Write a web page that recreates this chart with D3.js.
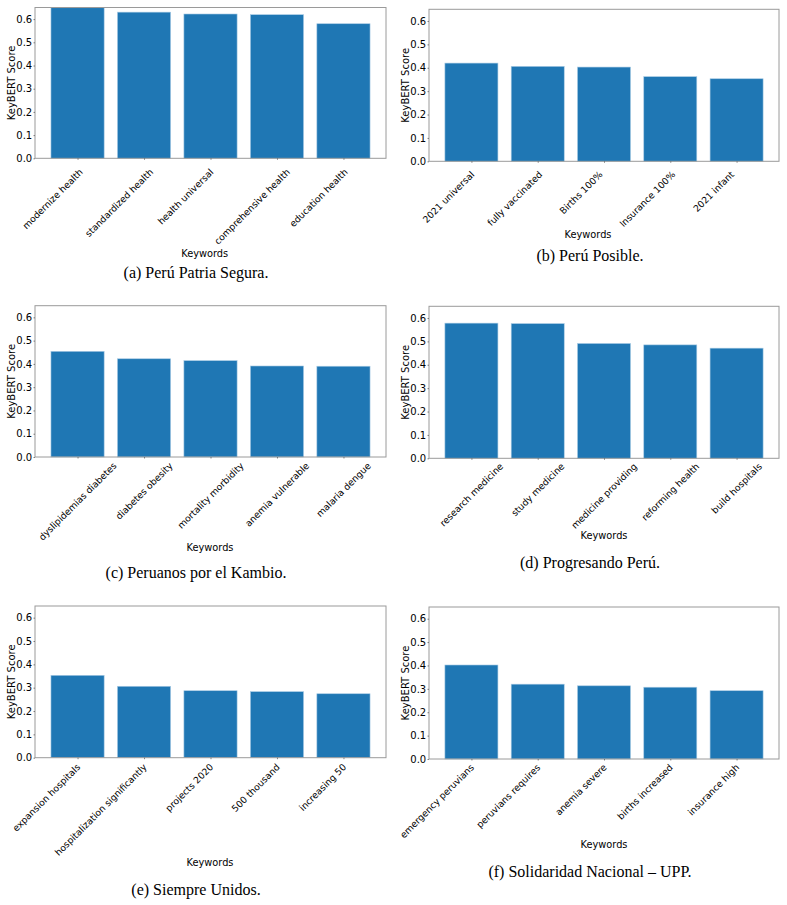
<!DOCTYPE html>
<html>
<head>
<meta charset="utf-8">
<script src="https://cdn.jsdelivr.net/npm/d3@7"></script>
<style>
  body { margin: 0; background: #fff; }
  svg { display: block; }
</style>
</head>
<body>
<div id="chart"></div>
<script>

// ━━━━━━━━━━━━━━━━━━━━━━━━━━━━━━━━━━━━━━━━━━━━━━━━━━━━━━━━━━━━━━━━━━━━━━━━━━━━━━
// Data ///////////////////////////////////////////////////////////////////////////
// ━━━━━━━━━━━━━━━━━━━━━━━━━━━━━━━━━━━━━━━━━━━━━━━━━━━━━━━━━━━━━━━━━━━━━━━━━━━━━━━

const keywordsA = ['modernize health', 'standardized health', 'health universal', 'comprehensive health', 'education health'];
const scoresA   = [0.649, 0.630, 0.622, 0.619, 0.580];

const keywordsB = ['2021 universal', 'fully vaccinated', 'Births 100%', 'Insurance 100%', '2021 infant'];
const scoresB   = [0.420, 0.406, 0.403, 0.362, 0.353];

const keywordsC = ['dyslipidemias diabetes', 'diabetes obesity', 'mortality morbidity', 'anemia vulnerable', 'malaria dengue'];
const scoresC   = [0.454, 0.422, 0.414, 0.391, 0.390];

const keywordsD = ['research medicine', 'study medicine', 'medicine providing', 'reforming health', 'build hospitals'];
const scoresD   = [0.578, 0.576, 0.491, 0.485, 0.471];

const keywordsE = ['expansion hospitals', 'hospitalization significantly', 'projects 2020', '500 thousand', 'increasing 50'];
const scoresE   = [0.353, 0.306, 0.287, 0.283, 0.274];

const keywordsF = ['emergency peruvians', 'peruvians requires', 'anemia severe', 'births increased', 'insurance high'];
const scoresF   = [0.402, 0.320, 0.313, 0.307, 0.292];

const captions = ['(a) Perú Patria Segura.', '(b) Perú Posible.', '(c) Peruanos por el Kambio.',
                  '(d) Progresando Perú.', '(e) Siempre Unidos.', '(f) Solidaridad Nacional – UPP.'];

const yTicks = [0.0, 0.1, 0.2, 0.3, 0.4, 0.5, 0.6];
const yMax = 0.65;

// ━━━━━━━━━━━━━━━━━━━━━━━━━━━━━━━━━━━━━━━━━━━━━━━━━━━━━━━━━━━━━━━━━━━━━━━━━━━━━━
// Layout (one entry per panel) ///////////////////////////////////////////////////
// ━━━━━━━━━━━━━━━━━━━━━━━━━━━━━━━━━━━━━━━━━━━━━━━━━━━━━━━━━━━━━━━━━━━━━━━━━━━━━━━

// mode: how the rotated keyword labels sit against their tick
//   'center' -> label box centred on tick (+shift), 'right' -> label ends at tick (+shift)
const panels = [
  { keys: keywordsA, vals: scoresA, caption: captions[0], left: 35,  right: 386, top: 7.5,   bottom: 158.3, mode: 'center', shift: -25, dy: 14.4, xlab: [204.7, 257.3], cap: [196, 278] },
  { keys: keywordsB, vals: scoresB, caption: captions[1], left: 429, right: 779, top: 9.3,   bottom: 161.3, mode: 'center', shift: -23, dy: 13.8, xlab: [588, 238],     cap: [590, 261] },
  { keys: keywordsC, vals: scoresC, caption: captions[2], left: 35,  right: 386, top: 305.7, bottom: 457,   mode: 'center', shift: 0,   dy: 9.4,  xlab: [210, 551],     cap: [196, 578] },
  { keys: keywordsD, vals: scoresD, caption: captions[3], left: 429, right: 779, top: 306.3, bottom: 458.3, mode: 'center', shift: 0,   dy: 8.7,  xlab: [604, 539.3],   cap: [590, 568] },
  { keys: keywordsE, vals: scoresE, caption: captions[4], left: 35,  right: 386, top: 606,   bottom: 757.7, mode: 'right',  shift: 3.4, dy: 10,   xlab: [210, 866],     cap: [196, 895] },
  { keys: keywordsF, vals: scoresF, caption: captions[5], left: 429, right: 779, top: 607,   bottom: 759,   mode: 'right',  shift: 3.2, dy: 9,    xlab: [604, 847.7],   cap: [590, 877] }
];

const width = 787, height = 905;
const barColor = '#1f77b4';
const sansFont = 'DejaVu Sans, sans-serif';
const tickFs = 9.2, yTickFs = 10, labelFs = 9.8;

const svg = d3.select('#chart').append('svg')
  .attr('xmlns', 'http://www.w3.org/2000/svg')
  .attr('viewBox', [0, 0, width, height])
  .attr('width', width)
  .attr('height', height);

svg.append('rect').attr('width', width).attr('height', height).attr('fill', '#fff');

panels.forEach(drawPanel);

function drawPanel(p) {
  const g = svg.append('g');

  const x = d3.scaleLinear().domain([-0.64, p.keys.length - 1 + 0.64]).range([p.left, p.right]);
  const y = d3.scaleLinear().domain([0, yMax]).range([p.bottom, p.top]);

  // bars
  g.append('g')
    .selectAll('rect')
    .data(p.vals)
    .join('rect')
    .attr('x', (d, i) => x(i - 0.4))
    .attr('width', (d, i) => x(i + 0.4) - x(i - 0.4))
    .attr('y', d => y(Math.min(d, yMax)))
    .attr('height', d => y(0) - y(Math.min(d, yMax)))
    .attr('fill', barColor)
    .attr('stroke', '#a9cbe4')
    .attr('stroke-width', 0.6);

  // frame
  g.append('rect')
    .attr('x', p.left).attr('y', p.top)
    .attr('width', p.right - p.left).attr('height', p.bottom - p.top)
    .attr('fill', 'none')
    .attr('stroke', '#9a9a9a')
    .attr('stroke-width', 1);

  // y axis
  const yAxis = g.append('g')
    .attr('transform', `translate(${p.left},0)`)
    .call(d3.axisLeft(y).tickValues(yTicks).tickSize(1.5).tickPadding(1.3).tickFormat(d3.format('.1f')));
  yAxis.select('.domain').remove();
  yAxis.selectAll('line').attr('stroke', '#555').attr('stroke-width', 0.7);
  yAxis.selectAll('text').attr('font-family', sansFont).attr('font-size', yTickFs).attr('fill', '#000');

  // x axis ticks
  const xAxis = g.append('g')
    .attr('transform', `translate(0,${p.bottom})`)
    .call(d3.axisBottom(x).tickValues(d3.range(p.keys.length)).tickSize(1.5).tickFormat(''));
  xAxis.select('.domain').remove();
  xAxis.selectAll('line').attr('stroke', '#555').attr('stroke-width', 0.7);

  // rotated keyword labels (anchored at the end of the baseline)
  const c45 = Math.SQRT1_2;
  const asc = 0.73 * tickFs;
  g.append('g')
    .selectAll('text')
    .data(p.keys)
    .join('text')
    .attr('font-family', sansFont)
    .attr('font-size', tickFs)
    .attr('fill', '#000')
    .attr('text-anchor', 'end')
    .text(d => d)
    .attr('transform', function (d, i) {
      let bx = x(i) + p.shift;
      if (p.mode === 'center') {
        const L = this.getComputedTextLength();
        bx += c45 * (L + asc) / 2;
      }
      const by = p.bottom + p.dy;
      return `translate(${bx},${by}) rotate(-45)`;
    });

  // axis labels
  g.append('text')
    .attr('x', p.xlab[0]).attr('y', p.xlab[1])
    .attr('text-anchor', 'middle')
    .attr('font-family', sansFont)
    .attr('font-size', labelFs)
    .text('Keywords');

  g.append('text')
    .attr('transform', `translate(${p.left - 20.5},${(p.top + p.bottom) / 2}) rotate(-90)`)
    .attr('text-anchor', 'middle')
    .attr('font-family', sansFont)
    .attr('font-size', 10)
    .text('KeyBERT Score');

  // caption
  g.append('text')
    .attr('x', p.cap[0]).attr('y', p.cap[1])
    .attr('text-anchor', 'middle')
    .attr('font-family', 'Liberation Serif, serif')
    .attr('font-size', 16)
    .text(p.caption);
}
</script>
</body>
</html>
